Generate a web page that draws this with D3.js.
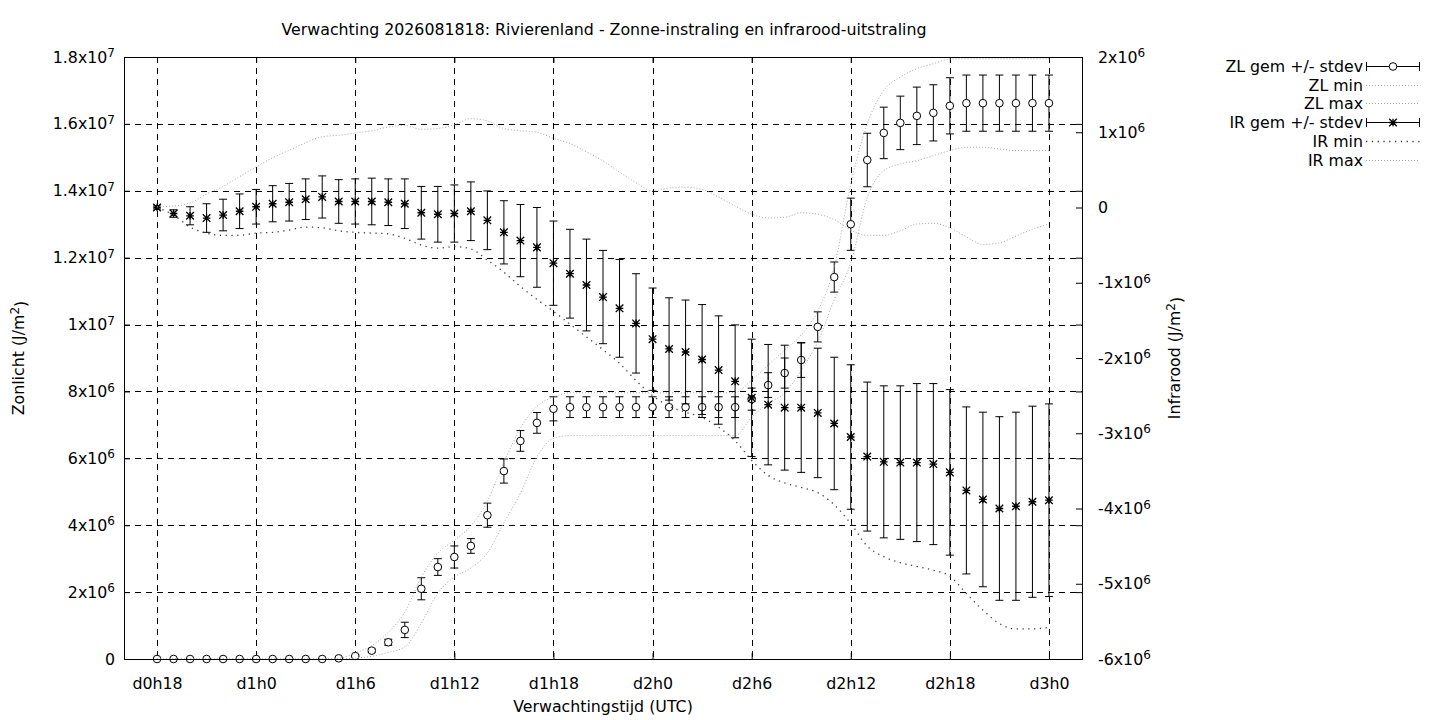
<!DOCTYPE html>
<html>
<head>
<meta charset="utf-8">
<script src="https://cdn.jsdelivr.net/npm/d3@7/dist/d3.min.js"></script>
<style>
  html, body { margin: 0; padding: 0; background: #fff; }
  svg { display: block; font-family: "DejaVu Sans", sans-serif; }
</style>
</head>
<body>
<svg id="chart" width="1440" height="720"></svg>
<script>
// ---------------- DATA ----------------
const titleText = "Verwachting 2026081818: Rivierenland - Zonne-instraling en infrarood-uitstraling";
const xLabelText = "Verwachtingstijd (UTC)";

// forecast hour counted from d0h0
const hours = [18,19,20,21,22,23,24,25,26,27,28,29,30,31,32,33,34,35,36,37,38,39,40,41,42,43,44,45,46,47,48,49,50,51,52,53,54,55,56,57,58,59,60,61,62,63,64,65,66,67,68,69,70,71,72];

// Zonlicht (J/m2), in units of 1e6
const zlMean = [0,0,0,0,0,0,0,0,0,0,0,0.02,0.09,0.25,0.5,0.87,2.1,2.75,3.05,3.38,4.3,5.62,6.52,7.06,7.48,
  7.53,7.53,7.53,7.53,7.53,7.53,7.53,7.53,7.53,7.53,7.53,7.77,8.19,8.55,8.94,9.93,11.42,13.0,14.92,15.73,16.03,16.24,16.33,16.54,
  16.62,16.62,16.62,16.62,16.62,16.62];
const zlStd = [0,0,0,0,0,0,0,0,0,0,0,0,0.03,0.05,0.09,0.23,0.33,0.25,0.33,0.22,0.36,0.36,0.31,0.31,0.36,
  0.31,0.31,0.31,0.31,0.31,0.31,0.31,0.31,0.31,0.31,0.31,0.33,0.37,0.45,0.52,0.45,0.45,0.78,0.8,0.77,0.8,0.86,0.84,0.84,
  0.84,0.84,0.84,0.84,0.84,0.84];
const zlMin = [0,0,0,0,0,0,0,0,0,0,0,0,0.03,0.08,0.2,0.36,1.07,1.97,2.45,2.72,3.17,4.07,4.96,6.04,6.6,
  6.68,6.68,6.68,6.68,6.68,6.68,6.68,6.68,6.68,6.68,6.68,7.23,7.65,7.95,8.64,9.48,10.74,11.84,13.8,14.6,14.8,14.9,15.05,15.2,
  15.3,15.3,15.25,15.2,15.2,15.2];
const zlMax = [0,0,0,0,0,0,0,0,0,0,0,0.02,0.18,0.4,0.8,1.4,2.45,3.17,3.55,3.98,4.72,5.88,6.9,7.55,7.83,
  7.96,7.96,7.96,7.96,7.96,7.96,7.96,7.96,7.96,7.96,7.97,8.34,8.79,9.24,9.69,10.4,11.72,14.2,16.0,17.0,17.4,17.65,17.8,17.94,
  17.95,17.95,17.95,17.95,17.95,17.95];

// Infrarood (J/m2), in units of 1e6
const irMean = [0.0,-0.08,-0.11,-0.14,-0.10,-0.05,0.01,0.05,0.07,0.11,0.14,0.08,0.08,0.08,0.07,0.05,-0.07,-0.09,-0.08,-0.05,
  -0.17,-0.33,-0.44,-0.53,-0.74,-0.88,-1.03,-1.19,-1.34,-1.54,-1.75,-1.88,-1.92,-2.02,-2.16,-2.31,-2.53,-2.62,-2.66,-2.66,
  -2.73,-2.87,-3.05,-3.31,-3.38,-3.39,-3.39,-3.41,-3.52,-3.76,-3.88,-4.00,-3.97,-3.91,-3.89];
const irStd = [0.02,0.05,0.12,0.19,0.21,0.23,0.23,0.24,0.25,0.27,0.28,0.29,0.30,0.31,0.31,0.33,0.35,0.37,0.38,0.39,
  0.39,0.42,0.48,0.53,0.56,0.59,0.61,0.62,0.65,0.66,0.68,0.68,0.69,0.73,0.72,0.75,0.78,0.80,0.83,0.86,
  0.86,0.88,0.96,0.99,1.01,1.02,1.05,1.07,1.10,1.11,1.16,1.22,1.25,1.27,1.28];
const irMin = [0.0,-0.10,-0.26,-0.34,-0.37,-0.37,-0.34,-0.33,-0.30,-0.26,-0.27,-0.31,-0.33,-0.34,-0.35,-0.41,-0.50,-0.54,-0.52,-0.55,
  -0.70,-0.86,-1.05,-1.22,-1.38,-1.55,-1.72,-1.89,-2.07,-2.30,-2.50,-2.64,-2.72,-2.79,-2.92,-3.10,-3.36,-3.56,-3.66,-3.72,
  -3.79,-3.95,-4.20,-4.50,-4.64,-4.72,-4.77,-4.82,-4.90,-5.13,-5.35,-5.53,-5.60,-5.60,-5.58];
const irMax = [0.01,0.02,0.06,0.18,0.28,0.41,0.54,0.66,0.76,0.86,0.94,0.96,0.99,1.02,1.07,1.09,1.04,1.05,1.10,1.18,
  1.15,1.05,1.02,1.00,0.92,0.85,0.74,0.62,0.47,0.33,0.22,0.26,0.27,0.24,0.14,0.02,-0.09,-0.14,-0.13,-0.07,
  -0.09,-0.16,-0.30,-0.37,-0.37,-0.31,-0.22,-0.21,-0.27,-0.39,-0.49,-0.47,-0.38,-0.29,-0.22];

const unit = 1e6;
const xTickHours = [18,24,30,36,42,48,54,60,66,72];
const xTickLabels = ["d0h18","d1h0","d1h6","d1h12","d1h18","d2h0","d2h6","d2h12","d2h18","d3h0"];
const leftTicks = [0,2e6,4e6,6e6,8e6,1e7,1.2e7,1.4e7,1.6e7,1.8e7];
const rightTicks = [-6e6,-5e6,-4e6,-3e6,-2e6,-1e6,0,1e6,2e6];
const legendLabels = ["ZL gem +/- stdev","ZL min","ZL max","IR gem +/- stdev","IR min","IR max"];

// ---------------- LAYOUT ----------------
const L = 124, R = 1082, T = 57, B = 659;
const svg = d3.select("#chart");
const x = d3.scaleLinear().domain([16, 74]).range([L, R]);
const yL = d3.scaleLinear().domain([0, 18e6]).range([B, T]);
const yR = d3.scaleLinear().domain([-6e6, 2e6]).range([B, T]);
const FS = 15.8;
const SUP = 12;

function sciParts(v) {
  if (v === 0) return ["0", null];
  const e = Math.floor(Math.log10(Math.abs(v)) + 1e-9);
  const m = +(v / Math.pow(10, e)).toFixed(2);
  return [m + "x10", String(e)];
}
function fillSci(sel) {
  sel.each(function(d) {
    const t = d3.select(this);
    const [m, e] = sciParts(d);
    t.text(null);
    t.append("tspan").text(m);
    if (e !== null) t.append("tspan").attr("dy", "-0.45em").attr("font-size", SUP).text(e);
  });
}

// grid
const grid = svg.append("g").attr("stroke", "#000").attr("stroke-width", 1).attr("stroke-dasharray", "6,5").attr("fill", "none");
grid.selectAll("line.v").data(xTickHours).join("line")
  .attr("x1", d => Math.round(x(d)) + 0.5).attr("x2", d => Math.round(x(d)) + 0.5)
  .attr("y1", T).attr("y2", B);
grid.selectAll("line.h").data(leftTicks.slice(1, -1)).join("line")
  .attr("x1", L).attr("x2", R)
  .attr("y1", d => Math.round(yL(d)) + 0.5).attr("y2", d => Math.round(yL(d)) + 0.5);

// axes
const axL = svg.append("g").attr("transform", `translate(${L},0)`)
  .call(d3.axisLeft(yL).tickValues(leftTicks).tickSizeInner(-6).tickSizeOuter(0).tickPadding(9));
const axLm = svg.append("g").attr("transform", `translate(${R},0)`)
  .call(d3.axisRight(yL).tickValues(leftTicks).tickSizeInner(-6).tickSizeOuter(0).tickFormat(""));
const axR = svg.append("g").attr("transform", `translate(${R},0)`)
  .call(d3.axisRight(yR).tickValues(rightTicks).tickSizeInner(-6).tickSizeOuter(0).tickPadding(16));
const axB = svg.append("g").attr("transform", `translate(0,${B})`)
  .call(d3.axisBottom(x).tickValues(xTickHours).tickSizeInner(-6).tickSizeOuter(0).tickPadding(19)
    .tickFormat((d, i) => xTickLabels[i]));
const axT = svg.append("g").attr("transform", `translate(0,${T})`)
  .call(d3.axisTop(x).tickValues(xTickHours).tickSizeInner(-6).tickSizeOuter(0).tickFormat(""));
[axL, axLm, axR, axB, axT].forEach(g => {
  g.select(".domain").remove();
  g.selectAll(".tick line").attr("stroke", "#000");
  g.selectAll("text").attr("font-size", FS).attr("font-family", "DejaVu Sans").attr("fill", "#000");
});
axL.selectAll(".tick text").call(fillSci);
axR.selectAll(".tick text").call(fillSci);

// lines
const idx = hours.map((h, i) => i);
function lineFor(scale, arr) {
  return d3.line().x(i => x(hours[i])).y(i => scale(arr[i] * unit)).curve(d3.curveMonotoneX)(idx);
}
const lightDot = { stroke: "#a8a8a8", dash: "1,2", w: 1 };
const darkDot = { stroke: "#404040", dash: "1.3,4.5", w: 1.3 };

const plot = svg.append("g");
function drawLine(scale, arr, st) {
  plot.append("path").attr("d", lineFor(scale, arr)).attr("fill", "none")
    .attr("stroke", st.stroke).attr("stroke-width", st.w).attr("stroke-dasharray", st.dash);
}
function drawErr(scale, mean, std) {
  const g = plot.append("g").attr("stroke", "#000").attr("stroke-width", 1);
  idx.forEach(i => {
    const cx = x(hours[i]);
    const y1 = scale((mean[i] - std[i]) * unit), y2 = scale((mean[i] + std[i]) * unit);
    g.append("line").attr("x1", cx).attr("x2", cx).attr("y1", y1).attr("y2", y2);
    g.append("line").attr("x1", cx - 4).attr("x2", cx + 4).attr("y1", y1).attr("y2", y1);
    g.append("line").attr("x1", cx - 4).attr("x2", cx + 4).attr("y1", y2).attr("y2", y2);
  });
}
function circleAt(g, cx, cy) {
  g.append("circle").attr("cx", cx).attr("cy", cy).attr("r", 3.8)
    .attr("fill", "#fff").attr("stroke", "#000").attr("stroke-width", 1);
}
function starAt(g, cx, cy) {
  const s = 3.8;
  g.append("path").attr("d",
    `M${cx - s},${cy}L${cx + s},${cy}M${cx},${cy - s}L${cx},${cy + s}` +
    `M${cx - s},${cy - s}L${cx + s},${cy + s}M${cx - s},${cy + s}L${cx + s},${cy - s}`)
    .attr("stroke", "#000").attr("stroke-width", 1.3).attr("fill", "none");
}

// ZL
drawErr(yL, zlMean, zlStd);
const zlPts = plot.append("g");
idx.forEach(i => circleAt(zlPts, x(hours[i]), yL(zlMean[i] * unit)));
drawLine(yL, zlMin, lightDot);
drawLine(yL, zlMax, lightDot);
// IR
drawErr(yR, irMean, irStd);
const irPts = plot.append("g");
idx.forEach(i => starAt(irPts, x(hours[i]), yR(irMean[i] * unit)));
drawLine(yR, irMin, darkDot);
drawLine(yR, irMax, lightDot);

// border
svg.append("rect").attr("x", L + 0.5).attr("y", T + 0.5).attr("width", R - L).attr("height", B - T)
  .attr("fill", "none").attr("stroke", "#000").attr("stroke-width", 1);

// title & labels
svg.append("text").attr("x", 604).attr("y", 35).attr("text-anchor", "middle")
  .attr("font-size", FS).text(titleText);
svg.append("text").attr("x", 603).attr("y", 712).attr("text-anchor", "middle")
  .attr("font-size", FS).text(xLabelText);

function yLabel(px, py, txt) {
  const t = svg.append("text").attr("transform", `translate(${px},${py}) rotate(-90)`)
    .attr("text-anchor", "middle").attr("font-size", FS);
  t.append("tspan").text(txt);
  t.append("tspan").attr("dy", "-0.45em").attr("font-size", SUP).text("2");
  t.append("tspan").attr("dy", "0.45em").text(")");
}
yLabel(24, 358, "Zonlicht (J/m");
yLabel(1180, 358, "Infrarood (J/m");

// legend
const legY = [66, 85, 103, 122, 141, 160];
const lg = svg.append("g");
const sx1 = 1366, sx2 = 1420, sxm = 1393;
const legStyles = [null, lightDot, lightDot, null, darkDot, lightDot];
legendLabels.forEach((lab, i) => {
  const y = legY[i];
  lg.append("text").attr("x", 1363).attr("y", y + 5.5).attr("text-anchor", "end")
    .attr("font-size", FS).text(lab);
  if (legStyles[i]) {
    const st = legStyles[i];
    lg.append("line").attr("x1", sx1).attr("x2", sx2).attr("y1", y + 0.5).attr("y2", y + 0.5)
      .attr("stroke", st.stroke).attr("stroke-width", st.w).attr("stroke-dasharray", st.dash);
  } else {
    const g = lg.append("g").attr("stroke", "#000").attr("stroke-width", 1);
    g.append("line").attr("x1", sx1).attr("x2", sx2).attr("y1", y + 0.5).attr("y2", y + 0.5);
    g.append("line").attr("x1", sx1 + 0.5).attr("x2", sx1 + 0.5).attr("y1", y - 4).attr("y2", y + 5);
    g.append("line").attr("x1", sx2 - 0.5).attr("x2", sx2 - 0.5).attr("y1", y - 4).attr("y2", y + 5);
    if (i === 0) circleAt(lg, sxm, y + 0.5); else starAt(lg, sxm, y + 0.5);
  }
});
</script>
</body>
</html>
